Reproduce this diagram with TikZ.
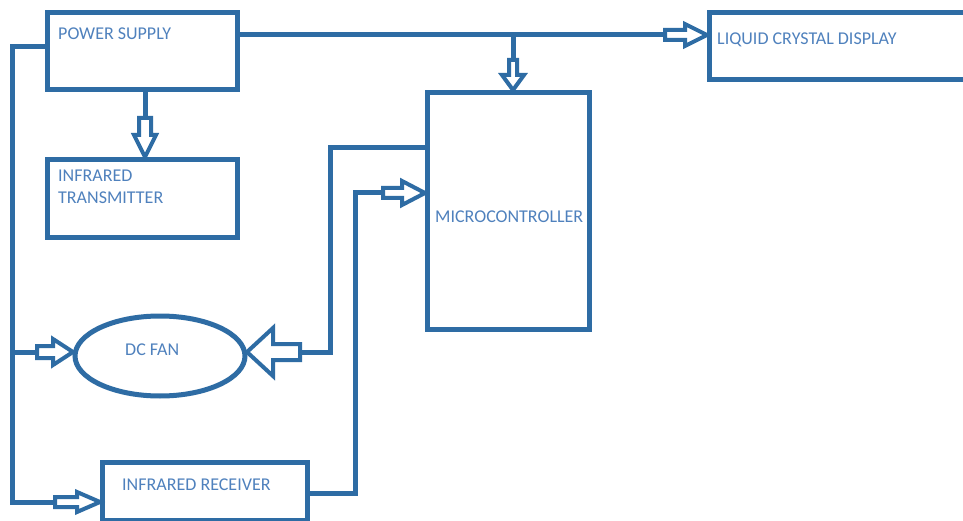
\documentclass[tikz,border=0pt]{standalone}
\usepackage{fontspec}
\setmainfont{Carlito}
\usetikzlibrary{shapes.geometric}
\definecolor{lineblue}{RGB}{46,108,164}
\definecolor{textblue}{RGB}{79,129,189}
\begin{document}
\begin{tikzpicture}[x=1pt,y=-1pt,
  box/.style={draw=lineblue,line width=5pt,inner sep=0pt},
  conn/.style={draw=lineblue,line width=5pt},
  lbl/.style={text=textblue,font=\fontsize{18}{22}\selectfont,anchor=base west,inner sep=0pt,align=left},
  pics/barrow/.style args={#1/#2/#3/#4}{code={
    \draw[draw=lineblue,line width=4pt,fill=white,line join=miter]
      (0,-#1) -- (#3,-#1) -- (#3,-#2) -- (#4,0) -- (#3,#2) -- (#3,#1) -- (0,#1) -- cycle;}}]
\clip (0,0) rectangle (963,521);
\fill[white] (0,0) rectangle (963,521);

% boxes
\node[box,minimum width=190pt,minimum height=77pt] (ps) at (142.5,51) {};
\node[box,minimum width=190pt,minimum height=78pt] (irt) at (142.5,198.5) {};
\node[box,minimum width=162pt,minimum height=237pt] (mcu) at (508.5,211) {};
\node[box,minimum width=290.5pt,minimum height=67pt] (lcd) at (854.75,46) {};
\node[box,minimum width=205pt,minimum height=57.5pt] (irr) at (205,491.25) {};
\node[box,ellipse,minimum width=170pt,minimum height=80pt] (fan) at (160,356) {};

% labels
\node[lbl] (tps) at (58,40) {POWER SUPPLY};
\node[lbl,anchor=north west] (tirt) at (58,170) {INFRARED\\TRANSMITTER};
\node[lbl] (tlcd) at (717,45) {LIQUID CRYSTAL DISPLAY};
\node[lbl] (tmcu) at (435,223) {MICROCONTROLLER};
\node[lbl] (tfan) at (125,355) {DC FAN};
\node[lbl] (tirr) at (122,490) {INFRARED RECEIVER};

% connectors
\coordinate (busTop) at (12,47);
\coordinate (busFan) at (12,352);
\coordinate (busBot) at (12,502);
\draw[conn] (ps.west |- 0,47) -- (busTop) -- (busBot) -- (55,502);
\pic at (55,502) {barrow=5/10/22/45};
\draw[conn] (busFan) -- (37,352);
\pic at (37,352) {barrow=6/13/16/36};

\draw[conn] (ps.south -| 145,0) -- (145,118);
\pic[rotate=-90] at (145,118) {barrow=6/11/17/39};

\coordinate (topJ) at (513,35);
\draw[conn] (ps.east |- 0,35) -- (665,35);
\pic at (665,35) {barrow=5/11/20/42};
\draw[conn] (topJ) -- (513,60);
\pic[rotate=-90] at (513,60) {barrow=4/11/15/30};

\draw[conn] (mcu.west |- 0,148) -- (330,148) -- (330,352) -- (300,352);
\pic[rotate=180] at (300,352) {barrow=8/24/27/53};

\draw[conn] (irr.east |- 0,493) -- (355,493) -- (355,193) -- (383,193);
\pic at (383,193) {barrow=5/12/19/42};
\end{tikzpicture}
\end{document}
